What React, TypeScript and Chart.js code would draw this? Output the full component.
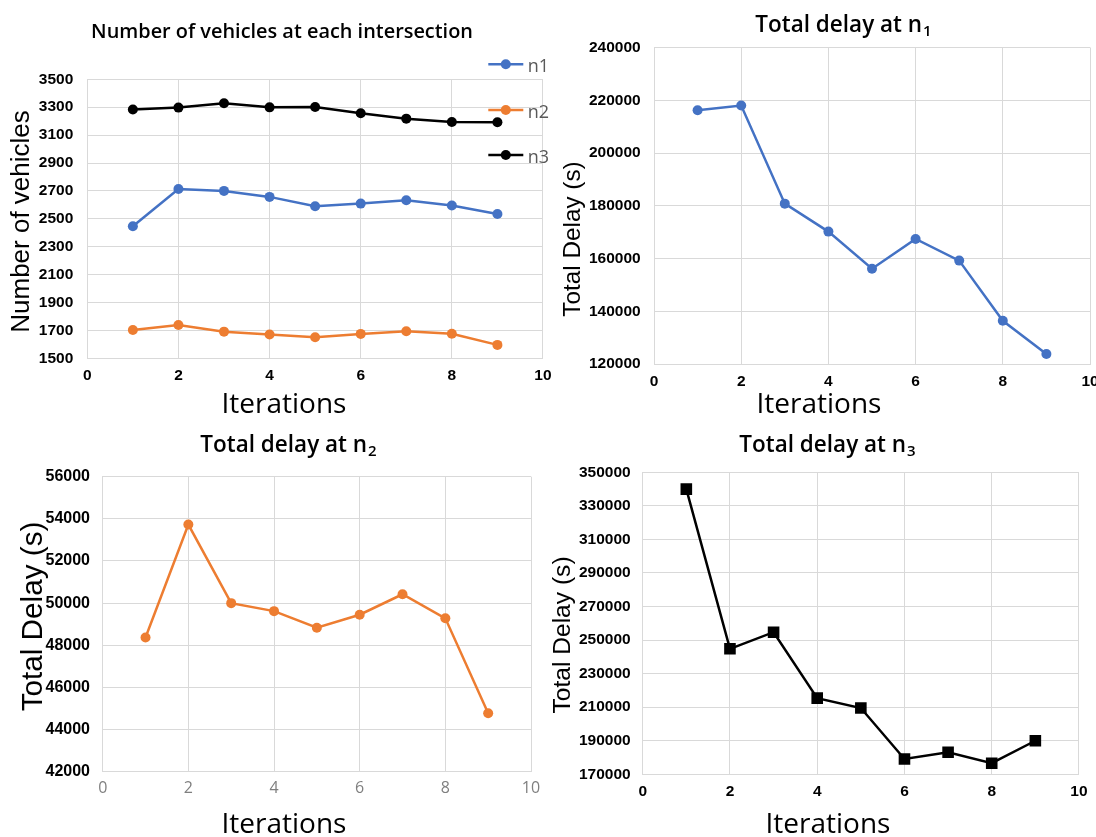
import React, { useEffect, useRef } from 'react';
import { Chart, registerables } from 'chart.js';

Chart.register(...registerables);

// ---------------- data ----------------
const iterations = [1, 2, 3, 4, 5, 6, 7, 8, 9];
const xTicksMin = 0;
const xTicksMax = 10;
const xTicksStep = 2;

const vehiclesN1 = [2446, 2714, 2700, 2657, 2590, 2609, 2633, 2595, 2535];
const vehiclesN2 = [1703, 1739, 1691, 1670, 1651, 1675, 1694, 1676, 1596];
const vehiclesN3 = [3283, 3297, 3328, 3299, 3301, 3256, 3218, 3194, 3192];

const delayN1 = [216200, 218000, 180800, 170200, 156100, 167400, 159200, 136400, 123800];
const delayN2 = [48370, 53730, 50000, 49620, 48830, 49450, 50420, 49280, 44770];
const delayN3 = [340000, 244800, 254700, 215400, 209500, 179100, 183100, 176600, 190000];

const seriesLabels = ['n1', 'n2', 'n3'];

const BLUE = '#4472C4';
const ORANGE = '#ED7D31';
const BLACK = '#000000';

const ARIAL = "'Liberation Sans', Arial, sans-serif";
const SANS = "'Open Sans', 'Noto Sans', sans-serif";

type TextItem = {
  text: string;
  sub?: string;
  x: number;
  y: number;
  font: string;
  subFont?: string;
  color: string;
  rotate?: boolean;
};

type LegendSpec = {
  lineX1: number;
  lineX2: number;
  textX: number;
  rows: number[];
  font: string;
  color: string;
};

type DS = { label: string; values: number[]; color: string; pointStyle: string; radius: number };

type PanelSpec = {
  left: number;
  top: number;
  width: number;
  height: number;
  area: { left: number; top: number; right: number; bottom: number };
  yMin: number;
  yMax: number;
  yStep: number;
  series: DS[];
  texts: TextItem[];
  legend?: LegendSpec;
  yTickPad: number;
  xTickPad: number;
  yTickFont: { family: string; size: number; weight?: string };
  xTickFont: { family: string; size: number; weight?: string };
  xTickColor: string;
};

function makeTextPlugin(texts: TextItem[], legend?: LegendSpec) {
  return {
    id: 'panelText',
    afterDraw(chart: any) {
      const ctx: CanvasRenderingContext2D = chart.ctx;
      ctx.save();
      if (legend) {
        chart.data.datasets.forEach((ds: any, i: number) => {
          const y = legend.rows[i];
          ctx.strokeStyle = ds.borderColor;
          ctx.lineWidth = 2.5;
          ctx.beginPath();
          ctx.moveTo(legend.lineX1, y);
          ctx.lineTo(legend.lineX2, y);
          ctx.stroke();
          ctx.fillStyle = ds.borderColor;
          ctx.beginPath();
          ctx.arc((legend.lineX1 + legend.lineX2) / 2, y, 5, 0, Math.PI * 2);
          ctx.fill();
          ctx.font = legend.font;
          ctx.fillStyle = legend.color;
          ctx.textAlign = 'left';
          ctx.textBaseline = 'alphabetic';
          ctx.fillText(ds.label, legend.textX, y + 7.5);
        });
      }
      texts.forEach((t) => {
        ctx.save();
        ctx.fillStyle = t.color;
        ctx.textBaseline = 'alphabetic';
        ctx.font = t.font;
        const mainW = ctx.measureText(t.text).width;
        let subW = 0;
        if (t.sub && t.subFont) {
          ctx.font = t.subFont;
          subW = ctx.measureText(t.sub).width;
        }
        const total = mainW + subW;
        ctx.translate(t.x, t.y);
        if (t.rotate) ctx.rotate(-Math.PI / 2);
        ctx.textAlign = 'left';
        ctx.font = t.font;
        ctx.fillText(t.text, -total / 2, 0);
        if (t.sub && t.subFont) {
          ctx.font = t.subFont;
          ctx.fillText(t.sub, -total / 2 + mainW + 1, 4);
        }
        ctx.restore();
      });
      ctx.restore();
    },
  };
}

function Panel({ spec }: { spec: PanelSpec }) {
  const ref = useRef<HTMLCanvasElement | null>(null);
  useEffect(() => {
    if (!ref.current) return;
    const a = spec.area;
    const chart = new Chart(ref.current, {
      type: 'line',
      data: {
        datasets: spec.series.map((s) => ({
          label: s.label,
          data: iterations.map((it, i) => ({ x: it, y: s.values[i] })),
          borderColor: s.color,
          backgroundColor: s.color,
          pointBackgroundColor: s.color,
          pointBorderColor: s.color,
          pointStyle: s.pointStyle as any,
          pointRadius: s.radius,
          pointBorderWidth: 0,
          borderWidth: 2.5,
          tension: 0,
          fill: false,
        })),
      },
      options: {
        responsive: false,
        animation: false,
        devicePixelRatio: 1,
        layout: {
          padding: { left: 0, top: a.top, right: spec.width - a.right, bottom: 0 },
        },
        plugins: {
          legend: { display: false },
          title: { display: false },
          tooltip: { enabled: false },
        },
        scales: {
          x: {
            type: 'linear',
            min: xTicksMin,
            max: xTicksMax,
            grid: { color: '#d9d9d9', lineWidth: 1, drawTicks: false },
            border: { display: true, color: '#d9d9d9', width: 1 },
            ticks: {
              stepSize: xTicksStep,
              autoSkip: false,
              padding: spec.xTickPad,
              color: spec.xTickColor,
              font: { family: spec.xTickFont.family, size: spec.xTickFont.size, weight: spec.xTickFont.weight || 'normal' },
              callback: (v: any) => String(v),
            },
            afterFit: (scale: any) => {
              scale.height = spec.height - a.bottom;
            },
          },
          y: {
            type: 'linear',
            min: spec.yMin,
            max: spec.yMax,
            grid: { color: '#d9d9d9', lineWidth: 1, drawTicks: false },
            border: { display: true, color: '#d9d9d9', width: 1 },
            ticks: {
              stepSize: spec.yStep,
              autoSkip: false,
              padding: spec.yTickPad,
              color: '#000000',
              font: { family: spec.yTickFont.family, size: spec.yTickFont.size, weight: spec.yTickFont.weight || 'normal' },
              callback: (v: any) => String(v),
            },
            afterFit: (scale: any) => {
              scale.width = a.left;
            },
          },
        },
      },
      plugins: [makeTextPlugin(spec.texts, spec.legend)],
    } as any);
    return () => chart.destroy();
  }, [spec]);
  return (
    <div
      style={{
        position: 'absolute',
        left: spec.left,
        top: spec.top,
        width: spec.width,
        height: spec.height,
      }}
    >
      <canvas
        ref={ref}
        width={spec.width}
        height={spec.height}
        style={{ width: spec.width, height: spec.height, display: 'block' }}
      />
    </div>
  );
}

const TICK_A = { family: ARIAL, size: 15.5, weight: 'bold' };
const TITLE_FONT = `600 22.5px ${SANS}`;
const SUB_FONT = `600 15px ${SANS}`;

const panels: PanelSpec[] = [
  {
    left: 0,
    top: 0,
    width: 560,
    height: 420,
    area: { left: 87.3, top: 79.3, right: 545, bottom: 358.3 },
    yMin: 1500,
    yMax: 3500,
    yStep: 200,
    series: [
      { label: seriesLabels[0], values: vehiclesN1, color: BLUE, pointStyle: 'circle', radius: 5 },
      { label: seriesLabels[1], values: vehiclesN2, color: ORANGE, pointStyle: 'circle', radius: 5 },
      { label: seriesLabels[2], values: vehiclesN3, color: BLACK, pointStyle: 'circle', radius: 5 },
    ],
    texts: [
      { text: 'Number of vehicles at each intersection', x: 282, y: 38.3, font: `600 19.9px ${SANS}`, color: '#000' },
      { text: 'Number of vehicles', x: 29.3, y: 221.5, font: `26px ${ARIAL}`, color: '#000', rotate: true },
      { text: 'Iterations', x: 284, y: 413.3, font: `28px ${SANS}`, color: '#000' },
    ],
    legend: { lineX1: 488.3, lineX2: 523.3, textX: 527.7, rows: [64.3, 110, 155], font: `18px ${SANS}`, color: '#595959' },
    yTickPad: 14,
    xTickPad: 8.4,
    yTickFont: TICK_A,
    xTickFont: TICK_A,
    xTickColor: '#000',
  },
  {
    left: 548,
    top: 0,
    width: 560,
    height: 420,
    area: { left: 106, top: 47.5, right: 542, bottom: 364 },
    yMin: 120000,
    yMax: 240000,
    yStep: 20000,
    series: [{ label: seriesLabels[0], values: delayN1, color: BLUE, pointStyle: 'circle', radius: 5 }],
    texts: [
      { text: 'Total delay at n', sub: '1', x: 295, y: 31.7, font: TITLE_FONT, subFont: SUB_FONT, color: '#000' },
      { text: 'Total Delay (s)', x: 31.7, y: 239, font: `24.3px ${ARIAL}`, color: '#000', rotate: true },
      { text: 'Iterations', x: 271, y: 413, font: `28px ${SANS}`, color: '#000' },
    ],
    yTickPad: 13.3,
    xTickPad: 8.7,
    yTickFont: TICK_A,
    xTickFont: TICK_A,
    xTickColor: '#000',
  },
  {
    left: 0,
    top: 420,
    width: 548,
    height: 417,
    area: { left: 102.7, top: 56.7, right: 531, bottom: 351.7 },
    yMin: 42000,
    yMax: 56000,
    yStep: 2000,
    series: [{ label: seriesLabels[1], values: delayN2, color: ORANGE, pointStyle: 'circle', radius: 5 }],
    texts: [
      { text: 'Total delay at n', sub: '2', x: 288, y: 31.7, font: TITLE_FONT, subFont: SUB_FONT, color: '#000' },
      { text: 'Total Delay (s)', x: 42.1, y: 196.5, font: `29.7px ${ARIAL}`, color: '#000', rotate: true },
      { text: 'Iterations', x: 284, y: 413.3, font: `28px ${SANS}`, color: '#000' },
    ],
    yTickPad: 12.7,
    xTickPad: 6.7,
    yTickFont: { family: ARIAL, size: 16, weight: 'bold' },
    xTickFont: { family: SANS, size: 16 },
    xTickColor: '#7f7f7f',
  },
  {
    left: 540,
    top: 420,
    width: 556,
    height: 417,
    area: { left: 102.7, top: 52.3, right: 546, bottom: 354.3 },
    yMin: 170000,
    yMax: 350000,
    yStep: 20000,
    series: [{ label: seriesLabels[2], values: delayN3, color: BLACK, pointStyle: 'rect', radius: 8.2 }],
    texts: [
      { text: 'Total delay at n', sub: '3', x: 287, y: 32, font: TITLE_FONT, subFont: SUB_FONT, color: '#000' },
      { text: 'Total Delay (s)', x: 30.1, y: 215, font: `24.6px ${ARIAL}`, color: '#000', rotate: true },
      { text: 'Iterations', x: 288, y: 413.3, font: `28px ${SANS}`, color: '#000' },
    ],
    yTickPad: 12,
    xTickPad: 8.4,
    yTickFont: TICK_A,
    xTickFont: TICK_A,
    xTickColor: '#000',
  },
];

export default function App() {
  return (
    <div
      style={{
        position: 'absolute',
        left: 0,
        top: 0,
        width: 1096,
        height: 837,
        overflow: 'hidden',
        background: '#ffffff',
      }}
    >
      {panels.map((p, i) => (
        <Panel key={i} spec={p} />
      ))}
    </div>
  );
}
